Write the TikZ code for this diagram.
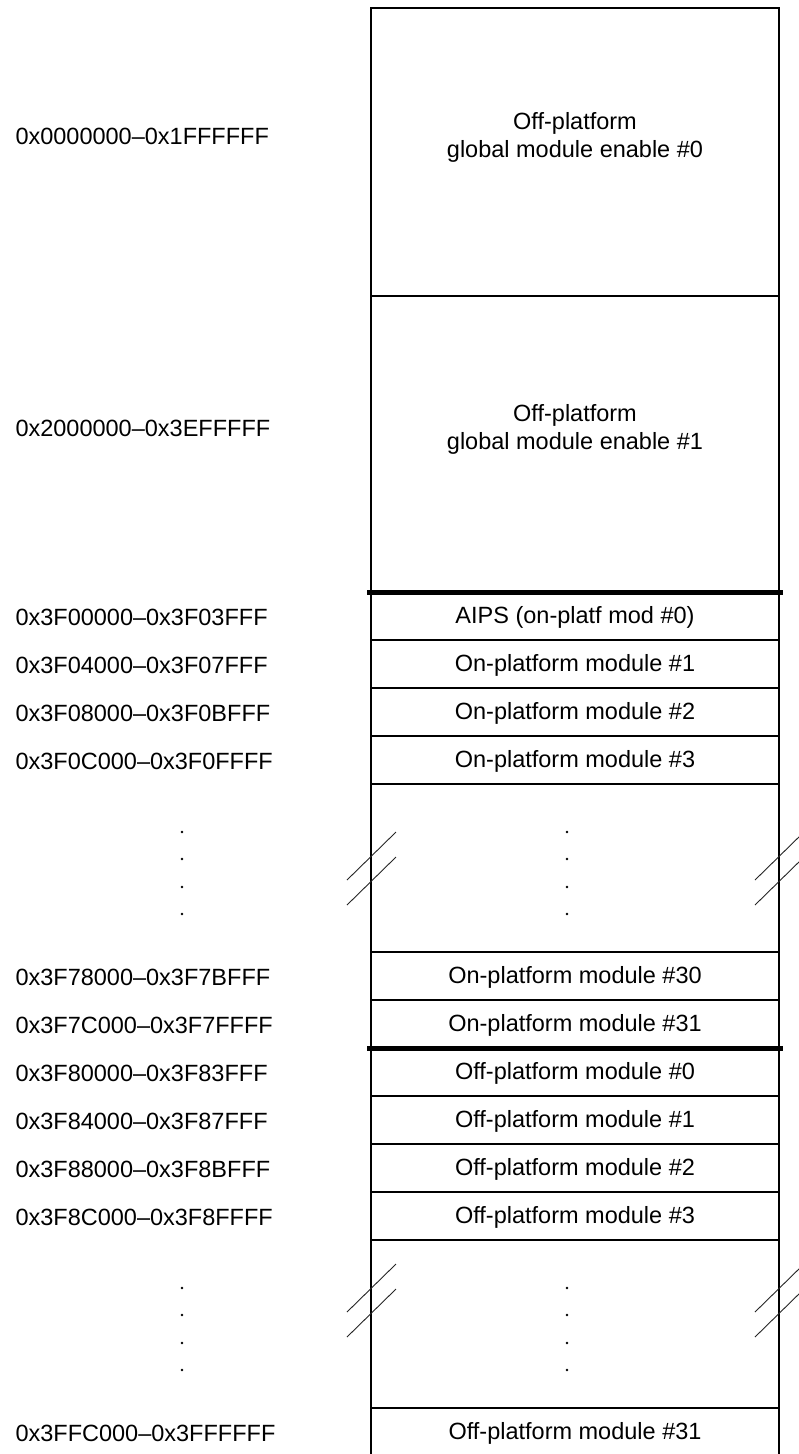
\documentclass[tikz,border=0pt]{standalone}
\usepackage{fontspec}
\setmainfont{Liberation Sans}
\begin{document}
\begin{tikzpicture}[x=1pt,y=-1pt,
  addr/.style={anchor=west, font=\fontsize{23.5}{28}\selectfont},
  mod/.style={align=center, font=\fontsize{23.5}{28}\selectfont},
  frame/.style={line width=2.4pt},
  sep/.style={line width=1.8pt},
  bus/.style={line width=5pt},
  brk/.style={line width=0.9pt, black!85}]
\useasboundingbox (0,0) rectangle (799,1454);
\clip (0,0) rectangle (799,1454);
% outer frame, open at the bottom
\draw[frame] (371,1470) -- (371,8) -- (779,8) -- (779,1470);
% row dividers
\draw[sep] (371,296) -- (779,296);
\draw[bus] (367,592) -- (783,592);
\draw[sep] (371,640) -- (779,640);
\draw[sep] (371,688) -- (779,688);
\draw[sep] (371,736) -- (779,736);
\draw[sep] (371,784) -- (779,784);
\draw[sep] (371,952) -- (779,952);
\draw[sep] (371,1000) -- (779,1000);
\draw[bus] (367,1048) -- (783,1048);
\draw[sep] (371,1096) -- (779,1096);
\draw[sep] (371,1144) -- (779,1144);
\draw[sep] (371,1192) -- (779,1192);
\draw[sep] (371,1240) -- (779,1240);
\draw[sep] (371,1408) -- (779,1408);
% address labels
\node[addr] (a0) at (12,136) {0x0000000--0x1FFFFFF};
\node[addr] (a1) at (12,428) {0x2000000--0x3EFFFFF};
\node[addr] (a2) at (12,617) {0x3F00000--0x3F03FFF};
\node[addr] (a3) at (12,665) {0x3F04000--0x3F07FFF};
\node[addr] (a4) at (12,713) {0x3F08000--0x3F0BFFF};
\node[addr] (a5) at (12,761) {0x3F0C000--0x3F0FFFF};
\node[addr] (a6) at (12,977) {0x3F78000--0x3F7BFFF};
\node[addr] (a7) at (12,1025) {0x3F7C000--0x3F7FFFF};
\node[addr] (a8) at (12,1073) {0x3F80000--0x3F83FFF};
\node[addr] (a9) at (12,1121) {0x3F84000--0x3F87FFF};
\node[addr] (a10) at (12,1169) {0x3F88000--0x3F8BFFF};
\node[addr] (a11) at (12,1217) {0x3F8C000--0x3F8FFFF};
\node[addr] (a12) at (12,1433) {0x3FFC000--0x3FFFFFF};
% module names
\node[mod] (m0) at (575,137) {Off-platform\\global module enable \#0};
\node[mod] (m1) at (575,429) {Off-platform\\global module enable \#1};
\node[mod] (m2) at (575,617) {AIPS (on-platf mod \#0)};
\node[mod] (m3) at (575,665) {On-platform module \#1};
\node[mod] (m4) at (575,713) {On-platform module \#2};
\node[mod] (m5) at (575,761) {On-platform module \#3};
\node[mod] (m6) at (575,977) {On-platform module \#30};
\node[mod] (m7) at (575,1025) {On-platform module \#31};
\node[mod] (m8) at (575,1073) {Off-platform module \#0};
\node[mod] (m9) at (575,1121) {Off-platform module \#1};
\node[mod] (m10) at (575,1169) {Off-platform module \#2};
\node[mod] (m11) at (575,1217) {Off-platform module \#3};
\node[mod] (m12) at (575,1433) {Off-platform module \#31};
% ellipsis dots
\foreach \y in {832,859,887,914,1288,1315,1343,1370} {
  \fill (182,\y) circle (1.4);
  \fill (567,\y) circle (1.4);
}
% break marks
\foreach \x in {371,779} {
  \draw[brk] (\x-24,880) -- (\x+25,832);
  \draw[brk] (\x-24,905) -- (\x+25,857);
  \draw[brk] (\x-24,1312) -- (\x+25,1264);
  \draw[brk] (\x-24,1337) -- (\x+25,1289);
}
\end{tikzpicture}
\end{document}
